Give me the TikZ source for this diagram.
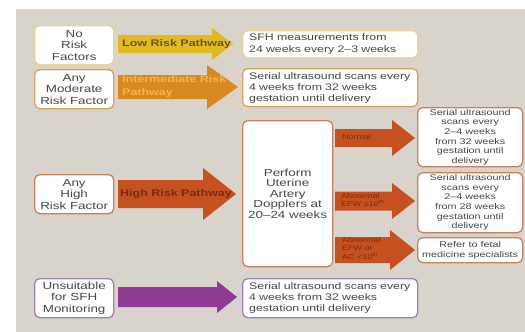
\documentclass[tikz,border=0pt]{standalone}
\usepackage{fontspec}
\setmainfont{Liberation Sans}[FakeStretch=1.3]
\definecolor{bgc}{HTML}{D9D4CB}
\definecolor{txt}{HTML}{474747}
\definecolor{lowb}{HTML}{E9D68C}
\definecolor{modb}{HTML}{D9A159}
\definecolor{highb}{HTML}{C9805E}
\definecolor{purpb}{HTML}{9F80B0}
\definecolor{lowa}{HTML}{E2BA1F}
\definecolor{lowt}{HTML}{6A5714}
\definecolor{moda}{HTML}{D8891F}
\definecolor{modt}{HTML}{F5B445}
\definecolor{higha}{HTML}{C65120}
\definecolor{hight}{HTML}{7A2A12}
\definecolor{purpa}{HTML}{8D3C94}
\newcommand\fatarrow[7]{\fill[#7] (#1,#4-#5) -- (#2,#4-#5) -- (#2,#4-#6) -- (#3,#4) -- (#2,#4+#6) -- (#2,#4+#5) -- (#1,#4+#5) -- cycle;}
\tikzset{
  box/.style={draw, fill=white, rounded corners=5pt, line width=1.3pt, anchor=north west, inner sep=0pt, text=txt},
  leftbox/.style={box, align=center, minimum width=79pt, minimum height=39pt, font=\fontsize{10.3}{11.5}\selectfont},
  widebox/.style={box, align=left, minimum width=175pt, text width=162pt, font=\fontsize{9.5}{11.5}\selectfont},
  smallbox/.style={box, align=center, minimum width=105pt, font=\fontsize{8.3}{9.6}\selectfont},
  biglabel/.style={anchor=west, inner sep=0pt, align=left, font=\bfseries\fontsize{9.6}{12.5}\selectfont},
  smalllabel/.style={anchor=west, inner sep=0pt, align=left, text=hight, font=\fontsize{6.9}{8.5}\selectfont},
}
\begin{document}
\begin{tikzpicture}[x=1pt,y=-1pt]
\useasboundingbox (0,0) rectangle (525,332);
\fill[white] (0,0) rectangle (525,332);
\fill[bgc] (16,9) rectangle (525,332);
% left boxes
\node[leftbox, draw=lowb] (nr) at (34,25) {No\\Risk\\Factors};
\node[leftbox, draw=modb] (mr) at (34,69) {Any\\Moderate\\Risk Factor};
\node[leftbox, draw=highb] (hr) at (34,174) {Any\\High\\Risk Factor};
\node[leftbox, draw=purpb] (us) at (34,278) {Unsuitable\\for SFH\\Monitoring};
% middle boxes
\node[widebox, draw=lowb, minimum height=27pt] (sfh) at (242,30) {SFH measurements from\\24 weeks every 2–3 weeks};
\node[widebox, draw=modb, minimum height=38pt, font=\fontsize{9.5}{11}\selectfont] (ser1) at (242,68) {Serial ultrasound scans every\\4 weeks from 32 weeks\\gestation until delivery};
\node[box, draw=highb, align=center, minimum width=90pt, minimum height=146pt, font=\fontsize{10.3}{10.5}\selectfont] (perf) at (242,120) {Perform\\Uterine\\Artery\\Dopplers at\\20–24 weeks};
\node[widebox, draw=purpb, minimum height=39pt, font=\fontsize{9.5}{11}\selectfont] (ser2) at (242,278) {Serial ultrasound scans every\\4 weeks from 32 weeks\\gestation until delivery};
% right boxes
\node[smallbox, draw=highb, minimum height=59pt] (norm) at (417,107) {Serial ultrasound\\scans every\\2–4 weeks\\from 32 weeks\\gestation until\\delivery};
\node[smallbox, draw=highb, minimum height=60pt] (abn) at (417,172) {Serial ultrasound\\scans every\\2–4 weeks\\from 28 weeks\\gestation until\\delivery};
\node[smallbox, draw=highb, minimum height=25pt] (ref) at (417,237) {Refer to fetal\\medicine specialists};
% big arrows
\fatarrow{118}{212}{233}{44}{9}{16}{lowa}
\fatarrow{118}{207}{238}{87}{12}{22}{moda}
\fatarrow{118}{203}{236}{194}{14}{26}{higha}
\fatarrow{118}{217}{237}{297}{10}{16}{purpa}
\node[biglabel, text=lowt] (lowlab) at (122,44) {Low Risk Pathway};
\node[biglabel, text=modt] (modlab) at (122,86.5) {Intermediate Risk\\Pathway};
\node[biglabel, text=hight] (highlab) at (120,194) {High Risk Pathway};
% small arrows
\fatarrow{335}{392}{415}{138}{9}{18}{higha}
\fatarrow{335}{392}{415}{201}{9.5}{18}{higha}
\fatarrow{335}{390}{415}{250}{13}{20}{higha}
\node[smalllabel] (nlab) at (342,137) {Normal};
\node[smalllabel] (a1lab) at (341,200) {Abnormal\\EFW ≥\textit{10}\textsuperscript{\textit{th}}};
\node[smalllabel] (a2lab) at (342,248.5) {Abnormal\\EFW or\\AC <10\textsuperscript{th}};
\end{tikzpicture}
\end{document}
